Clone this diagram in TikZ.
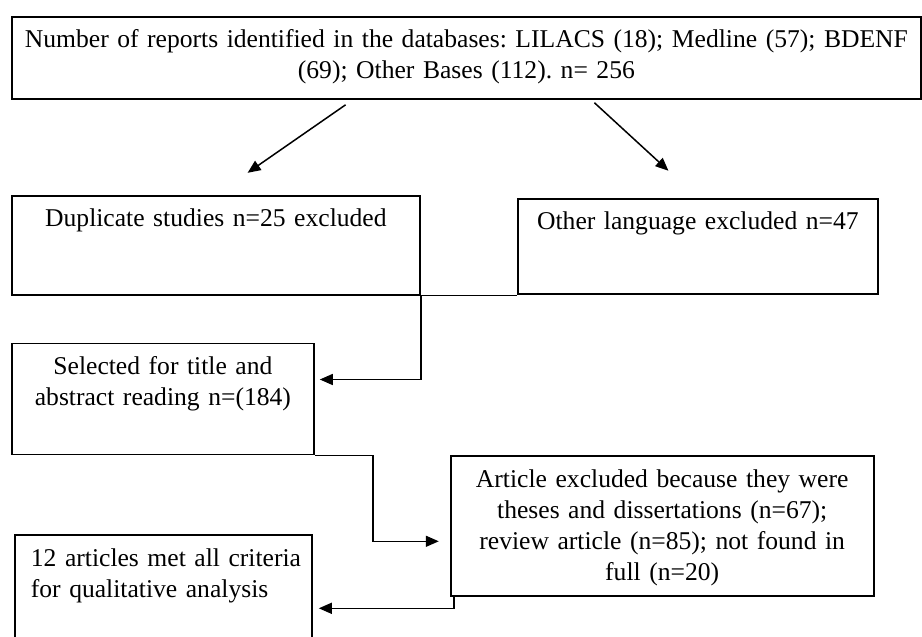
\documentclass[tikz,border=0pt]{standalone}
\usepackage{fontspec}
\setmainfont{Liberation Serif}
\usetikzlibrary{arrows.meta,positioning}
\frenchspacing
\begin{document}
\begin{tikzpicture}[x=0.5pt,y=-0.5pt,>={Triangle[length=6.5pt,width=5.5pt]}]
            \tikzstyle{stage}=[draw,line width=0.9pt,inner sep=0pt,align=center,font=\fontsize{12.8}{15.5}\selectfont,text height=15.5pt]
            \tikzstyle{flow}=[->,line width=0.75pt]
            \useasboundingbox (0,0) rectangle (922,637);
            \clip (0,0) rectangle (922,637);

            \node [stage, anchor=north west, text width=454.5pt, text depth=25.5pt] (reports) at (11,16)
                {Number of reports identified in the databases: LILACS (18); Medline (57); BDENF\\(69); Other Bases (112). n= 256}; %start
            \node [stage, text width=204pt, text depth=34pt] (duplicates) [below right=47.5pt and 0pt of reports.south west]
                {Duplicate studies n=25 excluded};
            \node [stage, text width=180pt, text depth=32pt] (language) [below right=49pt and 253pt of reports.south west]
                {Other language excluded n=47};
            \node [stage, text width=151pt, text depth=40pt] (screening) [below right=23.5pt and 0pt of duplicates.south west]
                {Selected for title and\\abstract reading n=(184)};
            \node [stage, text width=211.5pt, text depth=54.5pt] (excluded) [below right=0pt and 67.5pt of screening.south east]
                {Article excluded because they were\\theses and dissertations (n=67);\\review article (n=85); not found in\\full (n=20)};
            \node [stage, align=left, inner xsep=8pt, text width=132.5pt, text depth=57.5pt] (included) [below right=39.5pt and 1.5pt of screening.south west]
                {\mbox{12 articles met all criteria}\\for qualitative analysis}; %runs off the page

            \draw [flow, shorten <=4.4pt, shorten >=19.3pt] ([xshift=-56.8pt]reports.south) -- (duplicates.north);
            \draw [flow, shorten <=2.2pt, shorten >=20pt] ([xshift=62.4pt]reports.south) -- (language.north);
            \draw [line width=0.75pt] (duplicates.south east) -- (duplicates.south east -| language.south west);
            \draw [flow, shorten >=2.5pt] (duplicates.south east) |- ([yshift=9.75pt]screening.east);
            \draw [flow, shorten >=5.5pt] (screening.south east) -- ++(58,0) |- ([yshift=-7.5pt]excluded.west);
            \draw [flow, shorten >=3pt] ([xshift=2pt]excluded.south west) |- (included.east);
\end{tikzpicture}
\end{document}
